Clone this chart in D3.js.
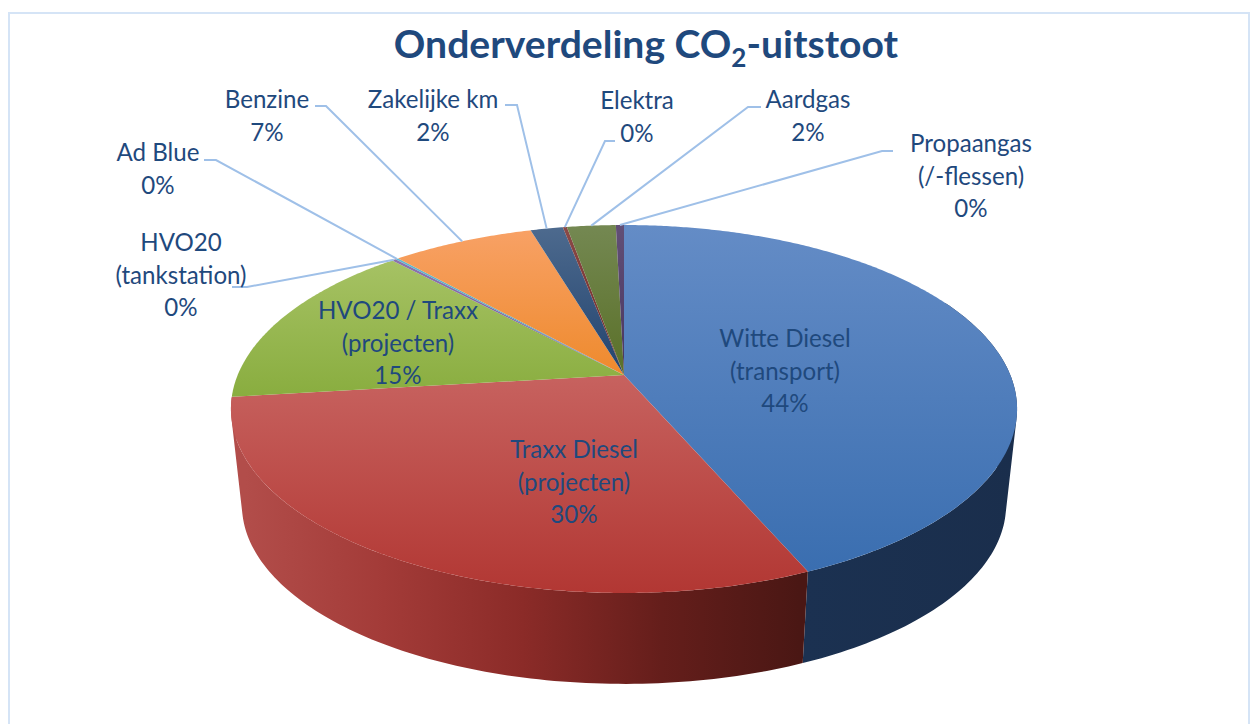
<!DOCTYPE html>
<html>
<head>
<meta charset="utf-8">
<script src="https://cdn.jsdelivr.net/npm/d3@7"></script>
<style>
html,body{margin:0;padding:0;background:#fff;overflow:hidden}
svg{display:block}
text{font-family:Lato,"Open Sans",sans-serif;fill:#1f497d}
</style>
</head>
<body>
<svg id="c" width="1251" height="724"></svg>
<script>
// data
const categories = ["Witte Diesel (transport)","Traxx Diesel (projecten)","HVO20 / Traxx (projecten)","HVO20 (tankstation)","Ad Blue","Benzine","Zakelijke km","Elektra","Aardgas","Propaangas (/-flessen)"];
const values = [43.6,29.6,15.0,0.2,0.15,7.0,1.6,0.2,2.4,0.4];
const percentLabels = ["44%","30%","15%","0%","0%","7%","2%","0%","2%","0%"];
const labelLines = [["Witte Diesel","(transport)"],["Traxx Diesel","(projecten)"],["HVO20 / Traxx","(projecten)"],["HVO20","(tankstation)"],["Ad Blue"],["Benzine"],["Zakelijke km"],["Elektra"],["Aardgas"],["Propaangas","(/-flessen)"]];
const titleText = ["Onderverdeling CO","2","-uitstoot"];

// styles
const topFrom = ["#648cc6","#c7625f","#a6c264","#8c74ab","#62b8ce","#f8a165","#4d6a8e","#8a4a48","#748852","#624f76"];
const topTo   = ["#3a6eb0","#b23733","#89ad3f","#7a5fa0","#40a0ba","#ee8a2d","#22436e","#6d2523","#5a7028","#483560"];
const sideStops = [["#1b3151","#1a2e4c"],["#b24d4a","#a33b38","#8b2b28","#651e1b","#4a1714"]];
const labelPos = [[785,347],[574,458],[398,319],[181,251],[158,161],[267,108],[433,108],[637,109],[808,108],[971,152]];
const elbows = [null,null,null,[[232,287],[247,287]],[[204,160],[216,160]],[[315,106],[326,106]],[[505,105],[517,105]],[[615,141],[605,141]],[[761,107],[748,107]],[[893,151],[882,151]]];
const fontSize = 24.1, lineH = 32.7;

// projection of the tilted disc
const cx = 624, cy = 375, a = 386.3, b = 177.7, p = 0.1848, depthScale = 0.972, depthShift = 107.5;
const rim = t => { const w = 1 + p*Math.cos(t); return [cx + a*Math.sin(t)/w, cy - b*Math.cos(t)/w]; };
const rimLow = t => { const q = rim(t); return [cx + (q[0]-cx)*depthScale, q[1]*depthScale + depthShift]; };

const svg = d3.select("#c");
const defs = svg.append("defs");
svg.append("rect").attr("x",9).attr("y",13).attr("width",1240).attr("height",760)
   .attr("fill","#fff").attr("stroke","#d5e4f6").attr("stroke-width",2);

const arcs = d3.pie().sort(null).startAngle(0).endAngle(2*Math.PI)(values);
const line = d3.line();
const sampled = (s,e,st) => { const r = d3.range(s,e,st); r.push(e); return r; };
const step = Math.PI/180;

// walls: one path per slice, all quads wound the same way so no seams appear
arcs.forEach((d,i)=>{
  if(i>1) return;
  const g = defs.append("linearGradient").attr("id","side"+i).attr("gradientUnits","userSpaceOnUse")
    .attr("x1",i?245:805).attr("x2",i?800:1017).attr("y1",0).attr("y2",0);
  sideStops[i].forEach((c,k,all)=>g.append("stop").attr("offset",k/(all.length-1)).attr("stop-color",c));
  const angles = sampled(d.startAngle,d.endAngle,step).filter(t=>t>Math.PI*0.35&&t<Math.PI*1.65);
  const quads = d3.pairs(angles).map(([s,e])=>{
    const q = [rim(s),rim(e),rimLow(e),rimLow(s)];
    if(d3.polygonArea(q)<0) q.reverse();
    return line(q)+"Z";
  }).join("");
  svg.append("path").attr("d",quads).attr("fill",`url(#side${i})`);
});

// top face
arcs.forEach((d,i)=>{
  const pts = sampled(d.startAngle,d.endAngle,step/2).map(rim);
  pts.unshift([cx,cy]);
  const ys = pts.map(q=>q[1]);
  const g = defs.append("linearGradient").attr("id","top"+i).attr("gradientUnits","userSpaceOnUse")
    .attr("x1",0).attr("x2",0).attr("y1",d3.min(ys)).attr("y2",d3.max(ys));
  g.append("stop").attr("offset",0).attr("stop-color",topFrom[i]);
  g.append("stop").attr("offset",1).attr("stop-color",topTo[i]);
  svg.append("path").attr("d",line(pts)+"Z").attr("fill",`url(#top${i})`);
});

// leader lines
arcs.forEach((d,i)=>{
  if(!elbows[i]) return;
  const end = rim((d.startAngle+d.endAngle)/2);
  svg.append("path").attr("d",line([...elbows[i],end])).attr("fill","none")
     .attr("stroke","#9fc0e8").attr("stroke-width",2);
});

// labels
labelLines.forEach((ls,i)=>{
  const t = svg.append("text").attr("text-anchor","middle").attr("font-size",fontSize);
  [...ls,percentLabels[i]].forEach((s,k)=>{
    t.append("tspan").attr("x",labelPos[i][0]).attr("y",labelPos[i][1]+k*lineH).text(s);
  });
});

// title
const title = svg.append("text").attr("x",646).attr("y",58).attr("text-anchor","middle")
  .attr("font-size",39.1).attr("font-weight",700);
title.append("tspan").text(titleText[0]);
title.append("tspan").attr("dy",9).attr("font-size",26).text(titleText[1]);
title.append("tspan").attr("dy",-9).text(titleText[2]);
</script>
</body>
</html>
